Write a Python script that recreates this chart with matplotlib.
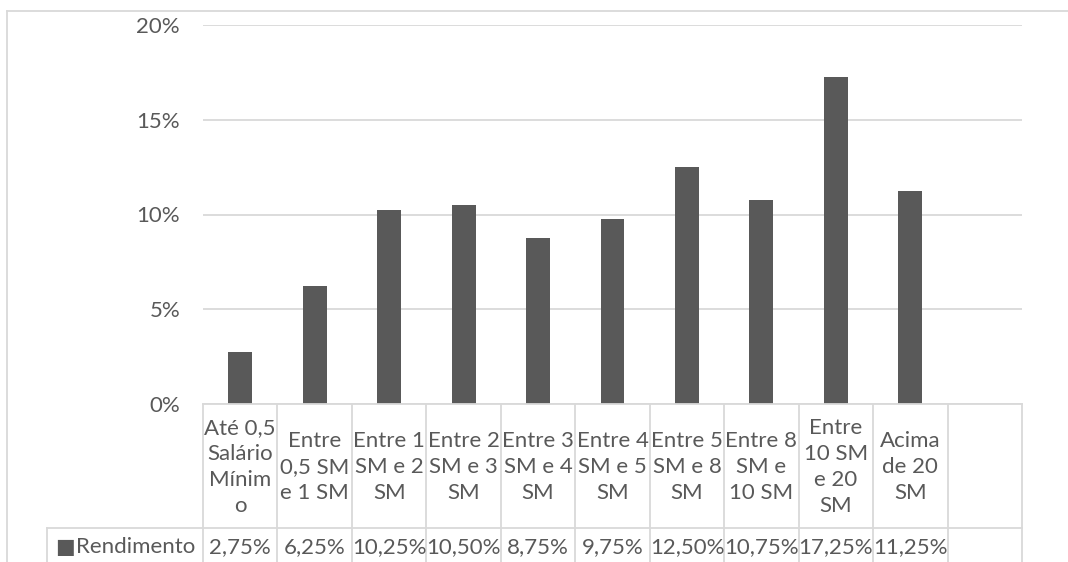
import matplotlib
matplotlib.use("Agg")
import matplotlib.pyplot as plt
import numpy as np
from matplotlib.lines import Line2D

categorias = ["Até 0,5\nSalário\nMínim\no", "Entre\n0,5 SM\ne 1 SM", "Entre 1\nSM e 2\nSM",
              "Entre 2\nSM e 3\nSM", "Entre 3\nSM e 4\nSM", "Entre 4\nSM e 5\nSM",
              "Entre 5\nSM e 8\nSM", "Entre 8\nSM e\n10 SM", "Entre\n10 SM\ne 20\nSM",
              "Acima\nde 20\nSM", ""]
rendimento = [0.0275, 0.0625, 0.1025, 0.1050, 0.0875, 0.0975, 0.1250, 0.1075, 0.1725, 0.1125, np.nan]
rotulos = ["2,75%", "6,25%", "10,25%", "10,50%", "8,75%", "9,75%", "12,50%", "10,75%", "17,25%", "11,25%", ""]
serie = "Rendimento"
yticks = [0, 0.05, 0.10, 0.15, 0.20]

plt.rcParams['font.family'] = ['Lato', 'DejaVu Sans']
txt = "#595959"
linha = "#d9d9d9"
W, H = 1068, 562
fs = 16

fig = plt.figure(figsize=(W / 100, H / 100), dpi=100)
x0, x1, ytop, ybot = 203, 1022, 25, 404          # area do gráfico em pixels
ax = fig.add_axes([x0 / W, (H - ybot) / H, (x1 - x0) / W, (ybot - ytop) / H])

n = len(categorias)
x = np.arange(n)
ax.bar(x, rendimento, width=0.32, color="#595959", zorder=3)
ax.set_xlim(-0.5, n - 0.5)
ax.set_ylim(0, 0.20)
ax.set_yticks(yticks)
ax.set_yticklabels([f"{int(round(v * 100))}%" for v in yticks], color=txt, fontsize=fs)
ax.tick_params(axis='y', length=0, pad=16.5)
ax.set_xticks([])
for s in ax.spines.values():
    s.set_visible(False)
ax.yaxis.grid(True, color=linha, linewidth=1.3)
ax.set_axisbelow(True)

# tabela de dados abaixo do eixo
def px(xp, yp):
    return xp / W, 1 - yp / H

colw = (x1 - x0) / n
yrow = 528
lines = []
lines.append(([x0, x1], [ybot, ybot]))
lines.append(([47, x1], [yrow, yrow]))
lines.append(([47, 47], [yrow, H]))
for i in range(n + 1):
    xb = x0 + i * colw
    lines.append(([xb, xb], [ybot, H]))
# borda do gráfico
lines.append(([7, 7], [11, H]))
lines.append(([7, W], [11, 11]))
for xs, ys in lines:
    fig.add_artist(Line2D([v / W for v in xs], [1 - v / H for v in ys], color=linha, linewidth=1.3))

for i in range(n):
    cx = x0 + (i + 0.5) * colw
    fig.text(*px(cx, (ybot + yrow) / 2 + 1), categorias[i], ha='center', va='center', ma='center',
             color=txt, fontsize=fs, linespacing=1.36)
    fig.text(*px(cx, 547), rotulos[i], ha='center', va='center', color=txt, fontsize=fs)

fig.text(*px(55, 547), "\u25A0", ha='left', va='center', color="#595959", fontsize=15,
         family=['DejaVu Sans'])
fig.text(*px(76, 547), serie, ha='left', va='center', color=txt, fontsize=fs)

fig.savefig("out.png", dpi=100)
